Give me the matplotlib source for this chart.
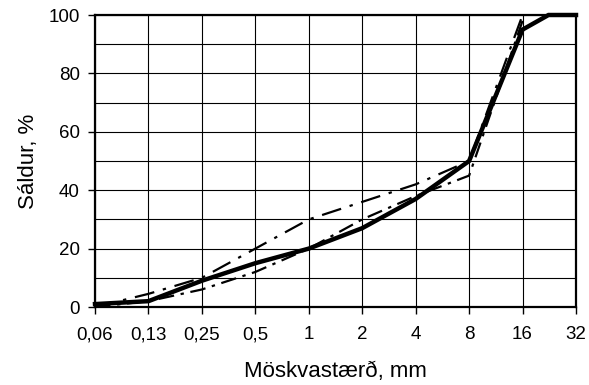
import matplotlib
matplotlib.use("Agg")
import matplotlib.pyplot as plt
from matplotlib.ticker import FixedLocator, FixedFormatter, MultipleLocator

plt.rcParams['font.family'] = ['Liberation Sans', 'DejaVu Sans']

# Sieve sizes (mm) – placed on a log2 axis
tick_sizes = [0.0625, 0.125, 0.25, 0.5, 1, 2, 4, 8, 16, 32]
tick_labels = ["0,06", "0,13", "0,25", "0,5", "1", "2", "4", "8", "16", "32"]

# Thick solid curve
main_x = [0.0625, 0.125, 0.25, 0.5, 1, 2, 4, 8, 16, 22.4, 32]
main_y = [1, 2, 9, 15, 20, 27, 37, 50, 95, 100, 100]

# Upper dash-dot curve
upper_x = [0.0625, 0.125, 0.25, 0.5, 1, 2, 4, 8, 16]
upper_y = [0, 4.5, 10, 20, 30, 36, 42, 50, 100]

# Lower dash-dot curve
lower_x = [0.0625, 0.125, 0.25, 0.5, 1, 2, 4, 8, 16]
lower_y = [0, 2, 6, 12, 20, 30, 38, 45, 98]

fig = plt.figure(figsize=(5.89, 3.85), dpi=100)
ax = fig.add_axes([95/589, 1-307/385, (576-95)/589, (307-15)/385])

ax.set_xscale('log', base=2)
ax.set_xlim(tick_sizes[0], tick_sizes[-1])
ax.set_ylim(0, 100)

ax.xaxis.set_major_locator(FixedLocator(tick_sizes))
ax.xaxis.set_major_formatter(FixedFormatter(tick_labels))
ax.xaxis.set_minor_locator(FixedLocator([]))
ax.yaxis.set_major_locator(MultipleLocator(20))
ax.yaxis.set_minor_locator(MultipleLocator(10))

ax.grid(True, which='major', color='black', linewidth=0.8)
ax.grid(True, which='minor', axis='y', color='black', linewidth=0.8)
ax.set_axisbelow(True)

ax.plot(lower_x, lower_y, color='black', linewidth=1.6,
        dashes=(7, 3, 1.5, 3), clip_on=False)
ax.plot(upper_x, upper_y, color='black', linewidth=1.6,
        dashes=(9, 4, 1.5, 4), clip_on=False)
ax.plot(main_x, main_y, color='black', linewidth=3.2,
        solid_joinstyle='miter', clip_on=False)

for s in ax.spines.values():
    s.set_linewidth(1.6)
    s.set_color('black')

ax.tick_params(axis='both', which='major', direction='out', length=5,
               width=1, labelsize=13.5, colors='black')
ax.tick_params(axis='x', which='major', pad=9)
ax.tick_params(axis='y', which='minor', length=0)
ax.tick_params(axis='y', which='major', pad=6)

ax.set_xlabel("Möskvastærð, mm", fontsize=16, labelpad=13)
ax.set_ylabel("Sáldur, %", fontsize=16, labelpad=7)

fig.savefig("out.png", dpi=100)
